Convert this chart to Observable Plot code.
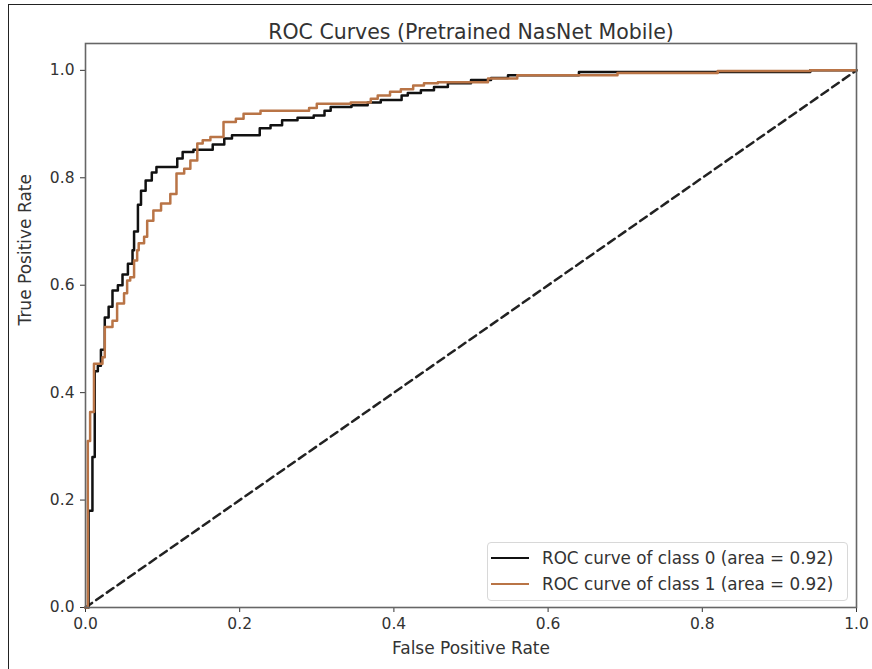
<!DOCTYPE html>
<html>
<head>
<meta charset="utf-8">
<script src="https://cdn.jsdelivr.net/npm/d3@7"></script>
<script src="https://cdn.jsdelivr.net/npm/@observablehq/plot@0.6"></script>
<style>
  html, body { margin: 0; padding: 0; background: #fff; }
  #wrap { position: relative; width: 872px; height: 669px; overflow: hidden; font-family: "DejaVu Sans", sans-serif; }
  #border { position: absolute; left: 8px; top: 4px; right: -10px; bottom: -10px; border-left: 1.5px solid #222; border-top: 1.5px solid #222; pointer-events: none; }
  #legend { position: absolute; left: 487px; top: 542px; width: 361px; height: 59px; border: 1px solid #d8d8d8; border-radius: 4px; background: rgba(255,255,255,0.85); box-sizing: border-box; }
  .row { position: absolute; left: 0; height: 22px; display: flex; align-items: center; font-size: 16.8px; color: #333; white-space: nowrap; }
  .swatch { width: 38px; height: 0; border-top: 2.6px solid; margin-left: 3px; margin-right: 13px; }
</style>
</head>
<body>
<div id="wrap"><div id="chart"></div><div id="legend"></div><div id="border"></div></div>
<script>
const title = "ROC Curves (Pretrained NasNet Mobile)";
const xLabel = "False Positive Rate";
const yLabel = "True Positive Rate";
const tickValues = [0, 0.2, 0.4, 0.6, 0.8, 1.0];
const seriesNames = ["ROC curve of class 0 (area = 0.92)", "ROC curve of class 1 (area = 0.92)"];
const seriesColors = ["#111111", "#b97446"];

// class 0 (black) ROC vertices
const fpr0 = [0,0.004,0.004,0.009,0.009,0.012,0.012,0.016,0.016,0.02,0.02,0.025,0.025,0.03,0.03,0.035,0.035,0.042,0.042,0.048,0.048,0.055,0.055,0.061,0.061,0.063,0.063,0.068,0.068,0.072,0.072,0.078,0.078,0.086,0.086,0.092,0.092,0.119,0.119,0.126,0.126,0.14,0.14,0.165,0.165,0.18,0.18,0.19,0.19,0.226,0.226,0.24,0.24,0.255,0.255,0.275,0.275,0.296,0.296,0.31,0.31,0.318,0.318,0.345,0.345,0.366,0.366,0.383,0.383,0.41,0.41,0.418,0.418,0.435,0.435,0.452,0.452,0.47,0.47,0.5,0.5,0.526,0.526,0.548,0.548,0.64,0.64,0.94,0.94,1];
const tpr0 = [0,0,0.18,0.18,0.28,0.28,0.44,0.44,0.45,0.45,0.48,0.48,0.54,0.54,0.56,0.56,0.59,0.59,0.60,0.60,0.62,0.62,0.64,0.64,0.665,0.665,0.70,0.70,0.75,0.75,0.776,0.776,0.795,0.795,0.81,0.81,0.82,0.82,0.836,0.836,0.848,0.848,0.852,0.852,0.862,0.862,0.873,0.873,0.879,0.879,0.892,0.892,0.898,0.898,0.907,0.907,0.912,0.912,0.916,0.916,0.925,0.925,0.932,0.932,0.935,0.935,0.94,0.94,0.945,0.945,0.953,0.953,0.958,0.958,0.963,0.963,0.969,0.969,0.976,0.976,0.982,0.982,0.986,0.986,0.991,0.991,0.997,0.997,1,1];

// class 1 (brown) ROC vertices
const fpr1 = [0,0.003,0.003,0.006,0.006,0.011,0.011,0.022,0.022,0.025,0.025,0.035,0.035,0.041,0.041,0.05,0.05,0.054,0.054,0.058,0.058,0.063,0.063,0.067,0.067,0.069,0.069,0.076,0.076,0.08,0.08,0.088,0.088,0.098,0.098,0.11,0.11,0.118,0.118,0.128,0.128,0.136,0.136,0.145,0.145,0.152,0.152,0.162,0.162,0.179,0.179,0.195,0.195,0.205,0.205,0.227,0.227,0.29,0.29,0.3,0.3,0.344,0.344,0.37,0.37,0.379,0.379,0.395,0.395,0.409,0.409,0.425,0.425,0.439,0.439,0.457,0.457,0.522,0.522,0.56,0.56,0.69,0.69,0.82,0.82,0.94,0.94,1];
const tpr1 = [0,0,0.31,0.31,0.364,0.364,0.454,0.454,0.466,0.466,0.522,0.522,0.534,0.534,0.566,0.566,0.585,0.585,0.609,0.609,0.615,0.615,0.646,0.646,0.665,0.665,0.678,0.678,0.69,0.69,0.72,0.72,0.739,0.739,0.752,0.752,0.77,0.77,0.808,0.808,0.817,0.817,0.832,0.832,0.864,0.864,0.87,0.87,0.876,0.876,0.904,0.904,0.91,0.91,0.919,0.919,0.925,0.925,0.93,0.93,0.938,0.938,0.94,0.94,0.947,0.947,0.953,0.953,0.96,0.96,0.965,0.965,0.972,0.972,0.976,0.976,0.978,0.978,0.985,0.985,0.991,0.991,0.995,0.995,0.999,0.999,1,1];

const chance = [0, 1];

const rows = [
  ...fpr0.map((f, i) => ({fpr: f, tpr: tpr0[i], s: 0})),
  ...fpr1.map((f, i) => ({fpr: f, tpr: tpr1[i], s: 1}))
];
const diag = chance.map(v => ({fpr: v, tpr: v}));

const chart = Plot.plot({
  width: 872,
  height: 669,
  marginLeft: 85,
  marginRight: 16,
  marginTop: 43,
  marginBottom: 62,
  style: {fontFamily: "DejaVu Sans, sans-serif", fontSize: "15.5px", color: "#333", background: "#fff"},
  x: {domain: [0, 1], ticks: tickValues, tickFormat: d => d.toFixed(1), label: null, tickSize: 5, tickPadding: 5},
  y: {domain: [0, 1.05], ticks: tickValues, tickFormat: d => d.toFixed(1), label: null, tickSize: 5, tickPadding: 6},
  marks: [
    Plot.line(diag, {x: "fpr", y: "tpr", stroke: "#222", strokeWidth: 2.5, strokeDasharray: "8,5"}),
    Plot.line(rows.filter(d => d.s === 0), {x: "fpr", y: "tpr", stroke: seriesColors[0], strokeWidth: 2.5, curve: "linear"}),
    Plot.line(rows.filter(d => d.s === 1), {x: "fpr", y: "tpr", stroke: seriesColors[1], strokeWidth: 2.5, curve: "linear"}),
    Plot.frame({stroke: "#666", strokeWidth: 1.6}),
    Plot.text([title], {text: d => d, frameAnchor: "top", dy: -19, fontSize: 20.5, fill: "#333"}),
    Plot.text([xLabel], {text: d => d, frameAnchor: "bottom", dy: 46, fontSize: 17, fill: "#333"}),
    Plot.text([yLabel], {text: d => d, frameAnchor: "left", dx: -60, rotate: -90, fontSize: 17, fill: "#333"})
  ]
});
document.getElementById("chart").appendChild(chart);

const legend = document.getElementById("legend");
seriesNames.forEach((name, i) => {
  const row = document.createElement("div");
  row.className = "row";
  row.style.top = (4 + i * 26) + "px";
  const sw = document.createElement("div");
  sw.className = "swatch";
  sw.style.borderColor = seriesColors[i];
  const t = document.createElement("span");
  t.textContent = name;
  row.appendChild(sw);
  row.appendChild(t);
  legend.appendChild(row);
});
</script>
</body>
</html>
